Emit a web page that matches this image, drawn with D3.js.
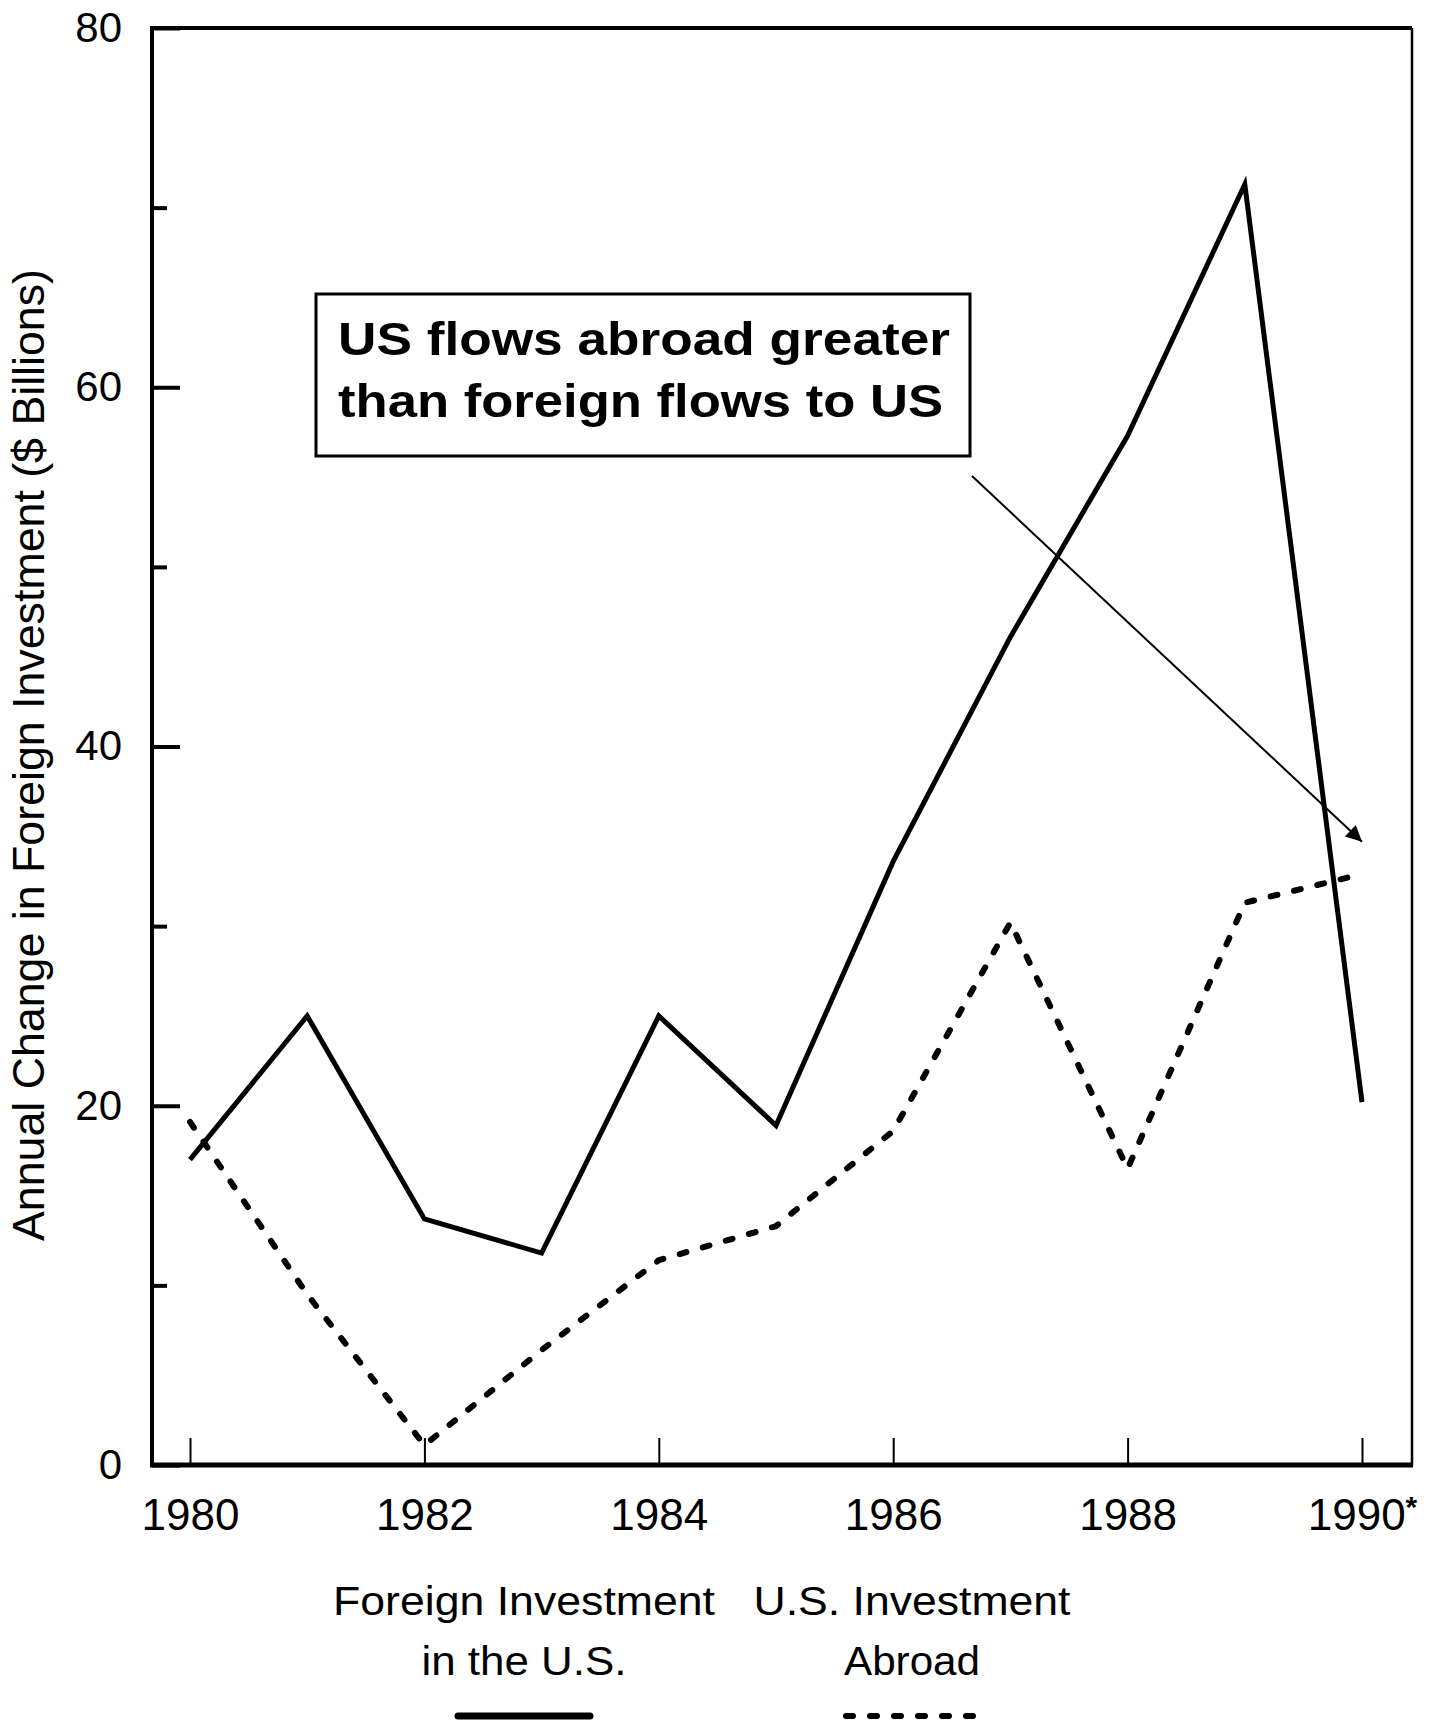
<!DOCTYPE html>
<html>
<head>
<meta charset="utf-8">
<script src="https://cdn.jsdelivr.net/npm/d3@7"></script>
<style>
  html, body { margin: 0; padding: 0; background: #fff; }
  svg { display: block; }
  text { font-family: "Liberation Sans", Arial, Helvetica, sans-serif; fill: #000; }
</style>
</head>
<body>
<svg id="chart" width="1430" height="1722"></svg>
<script>
// Annual change in foreign investment, $ billions
const years = [1980, 1981, 1982, 1983, 1984, 1985, 1986, 1987, 1988, 1989, 1990];
const foreignInUS = [17.0, 25.0, 13.7, 11.8, 25.0, 18.9, 33.6, 46.1, 57.3, 71.3, 20.2];
const usAbroad    = [19.1, 9.5, 1.1, 6.4, 11.4, 13.3, 18.6, 30.2, 16.5, 31.3, 32.9];

const yMajorTicks = [0, 20, 40, 60, 80];
const yMinorTicks = [10, 30, 50, 70];
const xTicks = [1980, 1982, 1984, 1986, 1988, 1990];
const estimatedYear = 1990;

const yTitle = "Annual Change in Foreign Investment ($ Billions)";
const noteLines = ["US flows abroad greater", "than foreign flows to US"];
const legendItems = [
  { lines: ["Foreign Investment", "in the U.S."], dashed: false },
  { lines: ["U.S. Investment", "Abroad"], dashed: true }
];

// layout
const W = 1430, H = 1722;
const frame = { left: 152, right: 1412, top: 28, bottom: 1465 };

const svg = d3.select("#chart");

const x = d3.scaleLinear().domain([1980, 1990]).range([190, 1362]);
const y = d3.scaleLinear().domain([0, 80]).range([frame.bottom, frame.top]);

// frame
const g = svg.append("g");
g.append("line").attr("x1", frame.left).attr("x2", frame.right)
  .attr("y1", frame.top).attr("y2", frame.top)
  .attr("stroke", "#000").attr("stroke-width", 4);
g.append("line").attr("x1", frame.right).attr("x2", frame.right)
  .attr("y1", frame.top).attr("y2", frame.bottom)
  .attr("stroke", "#000").attr("stroke-width", 2.5);
g.append("line").attr("x1", frame.left).attr("x2", frame.left)
  .attr("y1", frame.top - 2).attr("y2", frame.bottom + 2)
  .attr("stroke", "#000").attr("stroke-width", 4);
g.append("line").attr("x1", frame.left - 2).attr("x2", frame.right + 1)
  .attr("y1", frame.bottom).attr("y2", frame.bottom)
  .attr("stroke", "#000").attr("stroke-width", 5);

// y axis: labelled major ticks and short minor ticks, pointing inward
const yAxisMajor = d3.axisLeft(y).tickValues(yMajorTicks)
  .tickSizeInner(-28).tickSizeOuter(0).tickPadding(30)
  .tickFormat(d3.format("d"));
const yAx = svg.append("g").attr("transform", `translate(${frame.left},0)`).call(yAxisMajor);
yAx.select(".domain").remove();
yAx.selectAll(".tick line").attr("stroke", "#000").attr("stroke-width", 4);
yAx.selectAll(".tick text").attr("font-size", 42)
  .style("font-family", '"Liberation Sans", Arial, Helvetica, sans-serif').attr("fill", "#000");

const yAxisMinor = d3.axisLeft(y).tickValues(yMinorTicks)
  .tickSizeInner(-15).tickSizeOuter(0).tickFormat("");
const yAxMin = svg.append("g").attr("transform", `translate(${frame.left},0)`).call(yAxisMinor);
yAxMin.select(".domain").remove();
yAxMin.selectAll(".tick line").attr("stroke", "#000").attr("stroke-width", 4);

// x axis: even years, ticks pointing inward
const xAxis = d3.axisBottom(x).tickValues(xTicks)
  .tickSizeInner(-27).tickSizeOuter(0).tickPadding(34)
  .tickFormat(d3.format("d"));
const xAx = svg.append("g").attr("transform", `translate(0,${frame.bottom})`).call(xAxis);
xAx.select(".domain").remove();
xAx.selectAll(".tick line").attr("stroke", "#000").attr("stroke-width", 2);
xAx.selectAll(".tick text").attr("font-size", 44)
  .style("font-family", '"Liberation Sans", Arial, Helvetica, sans-serif').attr("fill", "#000");
xAx.selectAll(".tick").filter(d => d === estimatedYear).select("text")
  .append("tspan").attr("font-size", 30).attr("font-weight", "bold").attr("dy", "-0.45em").text("*");

// y title
svg.append("text")
  .attr("transform", `translate(44,755) rotate(-90)`)
  .attr("text-anchor", "middle")
  .attr("font-size", 45)
  .attr("textLength", 972)
  .attr("lengthAdjust", "spacingAndGlyphs")
  .text(yTitle);

// series
const rows = years.map((yr, i) => ({ year: yr, fdi: foreignInUS[i], abroad: usAbroad[i] }));

const lineFDI = d3.line().x(d => x(d.year)).y(d => y(d.fdi));
const lineAbroad = d3.line().x(d => x(d.year)).y(d => y(d.abroad));

svg.append("path").datum(rows)
  .attr("d", lineAbroad)
  .attr("fill", "none").attr("stroke", "#000")
  .attr("stroke-width", 6)
  .attr("stroke-dasharray", "7 17")
  .attr("stroke-linecap", "round")
  .attr("stroke-linejoin", "round");

svg.append("path").datum(rows)
  .attr("d", lineFDI)
  .attr("fill", "none").attr("stroke", "#000")
  .attr("stroke-width", 5)
  .attr("stroke-linejoin", "miter")
  .attr("stroke-miterlimit", 10);

// annotation box with arrow
const note = { x: 316, y: 294, w: 654, h: 162, pad: 22, line1: 61, lineGap: 62, size: 46 };
svg.append("rect")
  .attr("x", note.x).attr("y", note.y).attr("width", note.w).attr("height", note.h)
  .attr("fill", "#fff").attr("stroke", "#000").attr("stroke-width", 3);
const noteLengths = [612, 605];
noteLines.forEach((t, i) => {
  svg.append("text")
    .attr("x", note.x + note.pad)
    .attr("y", note.y + note.line1 + i * note.lineGap)
    .attr("font-size", note.size)
    .attr("font-weight", "bold")
    .attr("textLength", noteLengths[i])
    .attr("lengthAdjust", "spacingAndGlyphs")
    .text(t);
});

svg.append("defs").append("marker")
  .attr("id", "arrowhead")
  .attr("viewBox", "0 0 10 10")
  .attr("refX", 10).attr("refY", 5)
  .attr("markerWidth", 26).attr("markerHeight", 16)
  .attr("markerUnits", "userSpaceOnUse")
  .attr("orient", "auto")
  .append("path").attr("d", "M0,0 L10,5 L0,10 Z").attr("fill", "#000");

// arrow runs from the box corner down to the 1990 level of outward flows
const arrowEnd = { year: 1990, value: 34.7 };
svg.append("line")
  .attr("x1", note.x + note.w + 2).attr("y1", note.y + note.h + 20)
  .attr("x2", x(arrowEnd.year)).attr("y2", y(arrowEnd.value))
  .attr("stroke", "#000").attr("stroke-width", 2)
  .attr("marker-end", "url(#arrowhead)");

// legend
const legend = { centers: [524, 912], base1: 1615, base2: 1675, keyY: 1716, keyHalf: 66, size: 40 };
const legendLengths = [[382, 205], [317, 136]];
legendItems.forEach((item, i) => {
  const cx = legend.centers[i];
  item.lines.forEach((t, j) => {
    svg.append("text")
      .attr("x", cx).attr("y", j === 0 ? legend.base1 : legend.base2)
      .attr("text-anchor", "middle")
      .attr("font-size", legend.size)
      .attr("textLength", legendLengths[i][j])
      .attr("lengthAdjust", "spacingAndGlyphs")
      .text(t);
  });
  const key = svg.append("line")
    .attr("x1", cx - legend.keyHalf).attr("x2", cx + legend.keyHalf)
    .attr("y1", legend.keyY).attr("y2", legend.keyY)
    .attr("stroke", "#000");
  if (item.dashed) {
    key.attr("stroke-width", 6).attr("stroke-dasharray", "7 17").attr("stroke-linecap", "round");
  } else {
    key.attr("stroke-width", 7).attr("stroke-linecap", "round");
  }
});
</script>
</body>
</html>
